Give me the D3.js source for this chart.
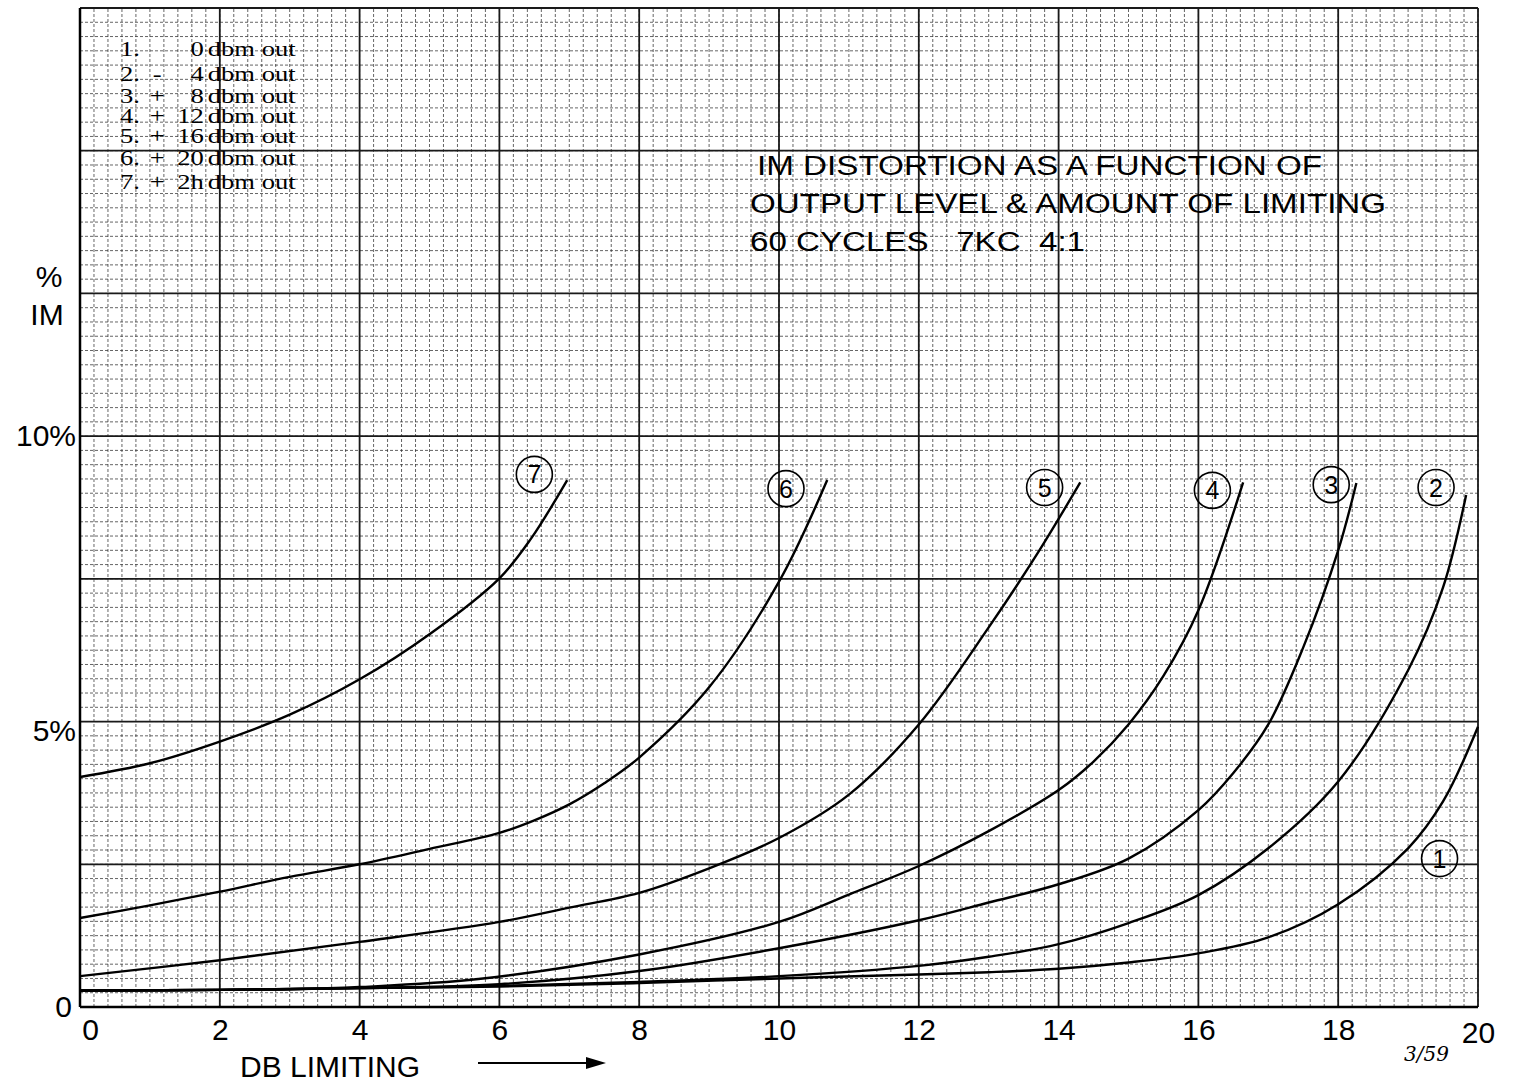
<!DOCTYPE html>
<html>
<head>
<meta charset="utf-8">
<script src="https://cdn.jsdelivr.net/npm/d3@7"></script>
<style>
  body { margin: 0; background: #fff; }
  svg { display: block; }
</style>
</head>
<body>
<script>
// dB limiting ticks and % IM ticks
const xTicks = [0, 2, 4, 6, 8, 10, 12, 14, 16, 18, 20];
const yTicks = [0, 5, 10];
const yTickText = ["0", "5%", "10%"];

// curve numbers and legend rows
const curveIds = ["1", "2", "3", "4", "5", "6", "7"];
const legendSign = ["", "-", "+", "+", "+", "+", "+"];
const legendValue = ["0", "4", "8", "12", "16", "20", "2h"];

// curve values [dB limiting, % IM]
const curve1 = [[0,0.29],[2,0.30],[4,0.33],[6,0.36],[8,0.42],[10,0.50],[12,0.57],[13,0.61],[14,0.67],[15,0.78],[16,0.94],[17,1.22],[18,1.80],[19,2.78],[19.5,3.6],[20,4.91]];
const curve2 = [[0,0.29],[2,0.30],[4,0.33],[6,0.37],[8,0.44],[10,0.54],[12,0.72],[13,0.88],[14,1.10],[15,1.47],[16,1.96],[17,2.78],[18,3.95],[19,5.9],[19.5,7.35],[19.83,8.97]];
const curve3 = [[0,0.29],[2,0.30],[4,0.33],[6,0.40],[8,0.63],[10,1.03],[12,1.52],[13,1.83],[14,2.15],[15,2.6],[16,3.45],[16.5,4.1],[17,4.95],[17.5,6.3],[18,8.0],[18.26,9.18]];
const curve4 = [[0,0.29],[2,0.30],[3,0.31],[4,0.35],[5.7,0.49],[8,0.92],[10,1.49],[11,1.97],[12,2.47],[13,3.08],[14,3.8],[14.5,4.3],[15,4.95],[15.5,5.8],[16,6.95],[16.64,9.19]];
const curve5 = [[0,0.54],[2,0.82],[4,1.14],[6,1.49],[7,1.74],[8,2.0],[9,2.43],[10,2.96],[11,3.72],[12,4.95],[13,6.65],[13.7,7.95],[14.31,9.19]];
const curve6 = [[0,1.56],[1,1.78],[2,2.02],[3,2.28],[4,2.50],[5,2.77],[6,3.05],[6.5,3.27],[7,3.55],[7.5,3.92],[8,4.37],[9,5.6],[10,7.45],[10.69,9.23]];
const curve7 = [[0,4.03],[1,4.27],[2,4.65],[3,5.12],[4,5.74],[5,6.53],[6,7.51],[6.45,8.2],[6.97,9.23]];
const curves = [curve1, curve2, curve3, curve4, curve5, curve6, curve7];

// where the circled numbers sit [dB, %]
const badgePos = [[19.45,2.6],[19.4,9.1],[17.9,9.15],[16.2,9.05],[13.8,9.1],[10.1,9.08],[6.5,9.33]];

const titleLines = ["IM DISTORTION AS A FUNCTION OF", "OUTPUT LEVEL & AMOUNT OF LIMITING", "60 CYCLES   7KC  4:1"];

const w = 1521, h = 1086;

const x = d3.scaleLinear().domain([0, 20]).range([80, 1478]);
const y = d3.scaleLinear().domain([0, 17.5]).range([1007, 8]);

const svg = d3.select("body").append("svg")
    .attr("width", w)
    .attr("height", h);

// graph paper - minor lines
const grid = svg.append("g");
grid.selectAll(".vminor")
    .data(d3.range(0, 101).map(i => i * 0.2))
    .enter().append("line")
    .attr("x1", d => x(d)).attr("x2", d => x(d))
    .attr("y1", y(0)).attr("y2", y(17.5))
    .attr("stroke", "#333")
    .attr("stroke-width", 1)
    .attr("stroke-dasharray", "3,2")
    .attr("opacity", 0.75);
grid.selectAll(".hminor")
    .data(d3.range(0, 71).map(i => i * 0.25))
    .enter().append("line")
    .attr("x1", x(0)).attr("x2", x(20))
    .attr("y1", d => y(d)).attr("y2", d => y(d))
    .attr("stroke", "#333")
    .attr("stroke-width", 1)
    .attr("stroke-dasharray", "3,2")
    .attr("opacity", 0.75);

// major lines
grid.selectAll(".vmajor")
    .data(d3.range(0, 11).map(i => i * 2))
    .enter().append("line")
    .attr("x1", d => x(d)).attr("x2", d => x(d))
    .attr("y1", y(0)).attr("y2", y(17.5))
    .attr("stroke", "#1a1a1a")
    .attr("stroke-width", 1.8);
grid.selectAll(".hmajor")
    .data(d3.range(0, 8).map(i => i * 2.5))
    .enter().append("line")
    .attr("x1", x(0)).attr("x2", x(20))
    .attr("y1", d => y(d)).attr("y2", d => y(d))
    .attr("stroke", "#1a1a1a")
    .attr("stroke-width", 1.8);

// axes lines a bit heavier
svg.append("line")
    .attr("x1", x(0)).attr("x2", x(0)).attr("y1", y(0)).attr("y2", y(17.5))
    .attr("stroke", "#000").attr("stroke-width", 2.5);
svg.append("line")
    .attr("x1", x(0)).attr("x2", x(20)).attr("y1", y(0)).attr("y2", y(0))
    .attr("stroke", "#000").attr("stroke-width", 2.5);

// curves
const line = d3.line()
    .x(d => x(d[0]))
    .y(d => y(d[1]))
    .curve(d3.curveCatmullRom.alpha(0.5));

svg.selectAll(".curve")
    .data(curves)
    .enter().append("path")
    .attr("d", line)
    .attr("fill", "none")
    .attr("stroke", "#000")
    .attr("stroke-width", 2.4);

// circled numbers
const badges = svg.selectAll(".badge")
    .data(badgePos)
    .enter().append("g")
    .attr("transform", d => "translate(" + x(d[0]) + "," + y(d[1]) + ")");
badges.append("circle")
    .attr("r", 18)
    .attr("fill", "none")
    .attr("stroke", "#000")
    .attr("stroke-width", 1.6);
badges.append("text")
    .attr("text-anchor", "middle")
    .attr("dy", "0.36em")
    .style("font-family", "Liberation Sans, Arial, sans-serif")
    .style("font-size", "25px")
    .text((d, i) => curveIds[i]);

// axes labels
const xAxis = d3.axisBottom(x)
    .tickValues(xTicks)
    .tickSize(0)
    .tickPadding(12)
    .tickFormat(d3.format("d"));
const gx = svg.append("g")
    .attr("transform", "translate(0," + y(0) + ")")
    .call(xAxis);
gx.select(".domain").remove();
gx.selectAll("text")
    .style("font-family", "Liberation Sans, Arial, sans-serif")
    .style("font-size", "30px")
    .attr("fill", "#000");
gx.selectAll(".tick").filter(d => d === 0).select("text").attr("dx", 10);
gx.selectAll(".tick").filter(d => d === 20).select("text").attr("dy", "0.8em");

const yAxis = d3.axisLeft(y)
    .tickValues(yTicks)
    .tickSize(0)
    .tickPadding(4)
    .tickFormat((d, i) => yTickText[i]);
const gy = svg.append("g")
    .attr("transform", "translate(" + x(0) + ",0)")
    .call(yAxis);
gy.select(".domain").remove();
gy.selectAll("text")
    .style("font-family", "Liberation Sans, Arial, sans-serif")
    .style("font-size", "30px")
    .attr("fill", "#000");
gy.selectAll(".tick").filter(d => d === 5).select("text").attr("dy", "0.62em");
gy.selectAll(".tick").filter(d => d === 0).select("text").attr("dx", -4);

svg.append("text")
    .attr("x", 49).attr("y", 287)
    .attr("text-anchor", "middle")
    .style("font-family", "Liberation Sans, Arial, sans-serif")
    .style("font-size", "30px")
    .text("%");
svg.append("text")
    .attr("x", 47).attr("y", 325)
    .attr("text-anchor", "middle")
    .style("font-family", "Liberation Sans, Arial, sans-serif")
    .style("font-size", "30px")
    .text("IM");

svg.append("text")
    .attr("x", 240).attr("y", 1077)
    .style("font-family", "Liberation Sans, Arial, sans-serif")
    .style("font-size", "30px")
    .text("DB LIMITING");
svg.append("line")
    .attr("x1", 478).attr("x2", 598).attr("y1", 1063).attr("y2", 1063)
    .attr("stroke", "#000").attr("stroke-width", 2);
svg.append("path")
    .attr("d", "M586,1057 L606,1063 L586,1069 Z")
    .attr("fill", "#000");

svg.append("text")
    .attr("x", 1404).attr("y", 1061)
    .style("font-family", "DejaVu Serif, serif")
    .style("font-style", "italic")
    .style("font-size", "20px")
    .text("3/59");

// title block
const title = svg.append("g")
    .style("font-family", "Liberation Sans, Arial, sans-serif")
    .style("font-size", "27px");
const titleLen = [565, 636, 335];
title.selectAll("text")
    .data(titleLines)
    .enter().append("text")
    .attr("x", (d, i) => i === 0 ? 757 : 750)
    .attr("y", (d, i) => 175 + i * 38)
    .attr("textLength", (d, i) => titleLen[i])
    .attr("lengthAdjust", "spacingAndGlyphs")
    .style("white-space", "pre")
    .attr("xml:space", "preserve")
    .text(d => d);

// legend rows, stretched sideways like the typed original
const legendY = [56, 81, 103, 123, 143, 165, 189];
const legend = svg.append("g")
    .attr("transform", "translate(120,0) scale(1.33,1)")
    .style("font-family", "Liberation Serif, Times New Roman, serif")
    .style("font-size", "20px");
const rows = legend.selectAll("g")
    .data(curveIds)
    .enter().append("g")
    .attr("transform", (d, i) => "translate(0," + legendY[i] + ")");
rows.append("text").attr("x", 0).text(d => d + ".");
rows.append("text").attr("x", 28).attr("text-anchor", "middle").text((d, i) => legendSign[i]);
rows.append("text").attr("x", 63).attr("text-anchor", "end").text((d, i) => legendValue[i]);
rows.append("text").attr("x", 66).text("dbm out");
</script>
</body>
</html>
